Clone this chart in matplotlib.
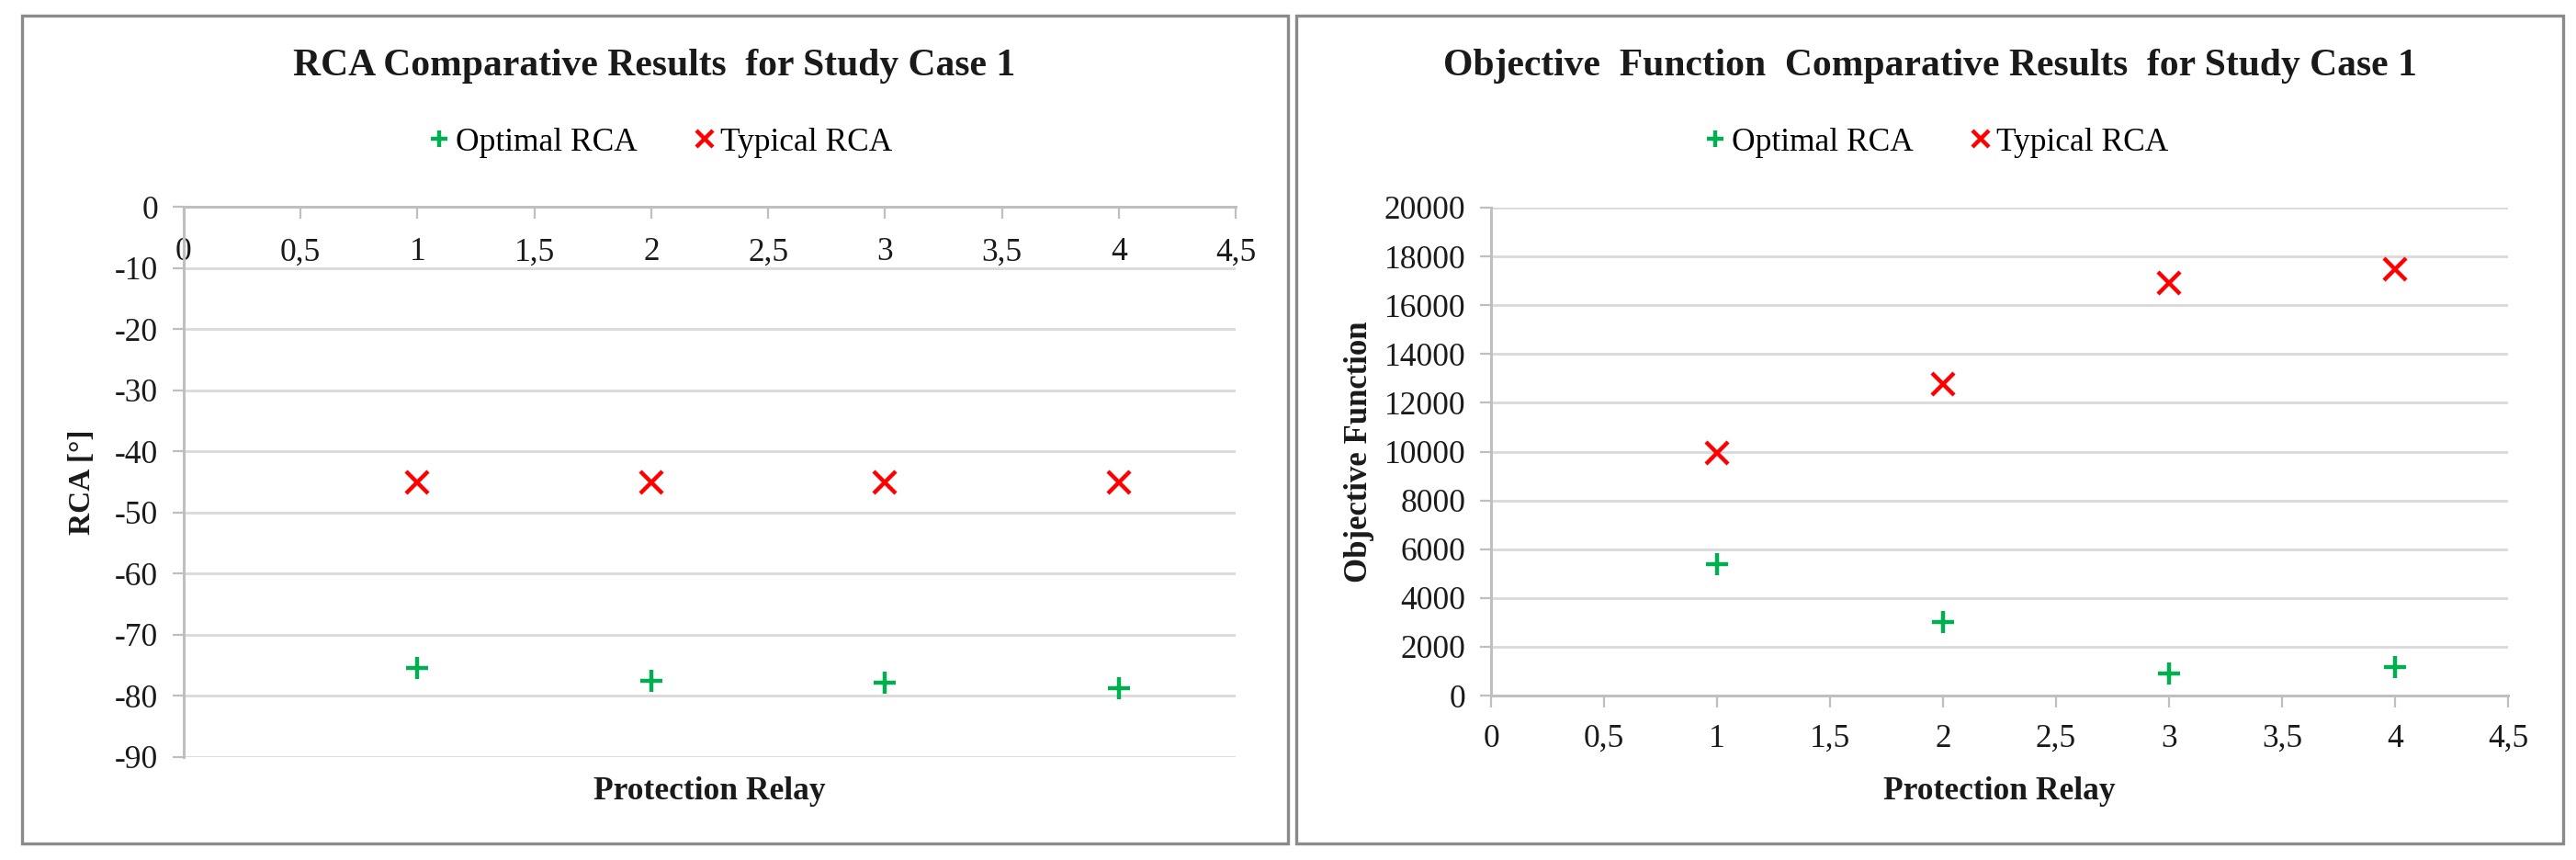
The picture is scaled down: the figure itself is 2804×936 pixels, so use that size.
import matplotlib
matplotlib.use("Agg")
import matplotlib.pyplot as plt
from matplotlib.patches import Rectangle

# ---- data ----
relay = [1, 2, 3, 4]
rca_optimal = [-75.4, -77.6, -77.8, -78.8]
rca_typical = [-45, -45, -45, -45]
obj_optimal = [5370, 3000, 900, 1180]
obj_typical = [9950, 12780, 16900, 17480]

x_ticks = [0, 0.5, 1, 1.5, 2, 2.5, 3, 3.5, 4, 4.5]
x_labels = ["0", "0,5", "1", "1,5", "2", "2,5", "3", "3,5", "4", "4,5"]
rca_ticks = [0, -10, -20, -30, -40, -50, -60, -70, -80, -90]
rca_labels = ["0", "-10", "-20", "-30", "-40", "-50", "-60", "-70", "-80", "-90"]
obj_ticks = list(range(0, 20001, 2000))
obj_labels = [str(v) for v in obj_ticks]

# ---- style ----
GREEN = "#00B050"
RED = "#FF0000"
AXIS = "#BFBFBF"
GRID = "#D9D9D9"
BORDER = "#8A8A8A"
INK = "#1a1a1a"
plt.rcParams["font.family"] = ["Liberation Serif", "DejaVu Serif"]

W, H = 2804, 936
fig = plt.figure(figsize=(W / 100, H / 100), dpi=100)


def fx(px):
    return px / W


def fy(py):
    return 1 - py / H


def style_axis(ax, pad_x):
    ax.set_xlim(0, 4.5)
    ax.set_xticks(x_ticks, x_labels)
    for s in ("top", "right"):
        ax.spines[s].set_visible(False)
    for s in ("left", "bottom"):
        ax.spines[s].set_color(AXIS)
        ax.spines[s].set_linewidth(2.2)
    ax.grid(axis="y", color=GRID, lw=2)
    ax.set_axisbelow(True)
    ax.tick_params(axis="both", direction="out", length=9, width=1.6,
                   color=AXIS, labelsize=25.5, labelcolor=INK)
    ax.tick_params(axis="x", pad=pad_x)
    ax.tick_params(axis="y", pad=11)


def series(ax, xs, opt, typ):
    ax.plot(xs, opt, ls="none", marker="+", ms=17, mew=3.2, color=GREEN,
            label="Optimal RCA", clip_on=False)
    ax.plot(xs, typ, ls="none", marker="x", ms=17, mew=3.2, color=RED,
            label="Typical RCA", clip_on=False)


# ---- left: RCA ----
ax1 = fig.add_axes([fx(200), fy(824), fx(1345 - 200), (824 - 225) / H])
series(ax1, relay, rca_optimal, rca_typical)
ax1.set_ylim(-90, 0)
ax1.set_yticks(rca_ticks, rca_labels)
style_axis(ax1, pad_x=15)
ax1.spines["bottom"].set_position(("data", 0))

# ---- right: objective function ----
ax2 = fig.add_axes([fx(1623), fy(757), fx(2730 - 1623), (757 - 226) / H])
series(ax2, relay, obj_optimal, obj_typical)
ax2.set_ylim(0, 20000)
ax2.set_yticks(obj_ticks, obj_labels)
style_axis(ax2, pad_x=13)

# ---- titles, legends, labels ----
panels = [(ax1, 712, "RCA Comparative Results  for Study Case 1", "RCA [°]", 90, 24),
          (ax2, 2101, "Objective  Function  Comparative Results  for Study Case 1",
           "Objective Function", 1479, 25)]
for ax, cx, title, ylab, ylx, yfs in panels:
    fig.text(fx(cx), fy(72), title, ha="center", va="center",
             fontsize=30, fontweight="bold", color=INK)
    ax.legend(loc="center", bbox_to_anchor=(fx(cx + 5), fy(155)),
              bbox_transform=fig.transFigure, ncol=2, frameon=False,
              fontsize=25.5, handletextpad=0.05, columnspacing=1.6,
              markerscale=0.75, handlelength=0.9)
    pos = ax.get_position()
    fig.text((pos.x0 + pos.x1) / 2, fy(861), "Protection Relay", ha="center",
             va="center", fontsize=25.5, fontweight="bold", color=INK)
    fig.text(fx(ylx), (pos.y0 + pos.y1) / 2, ylab, ha="center", va="center",
             rotation=90, fontsize=yfs, fontweight="bold", color=INK)

# ---- panel borders ----
for x0, x1 in [(24, 1402), (1411, 2790)]:
    fig.patches.append(Rectangle((fx(x0), fy(918)), fx(x1 - x0), (918 - 17) / H,
                                 transform=fig.transFigure, fill=False,
                                 edgecolor=BORDER, linewidth=2.4))

fig.savefig("out.png", dpi=100, facecolor="white")
